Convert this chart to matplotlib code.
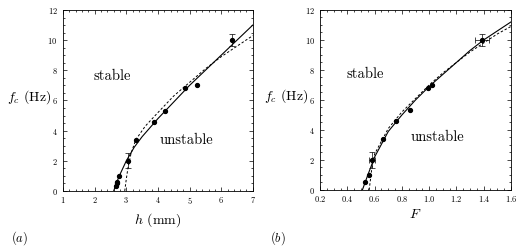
import numpy as np
import matplotlib
matplotlib.use('Agg')
import matplotlib.pyplot as plt
from matplotlib.ticker import MultipleLocator

plt.rcParams['font.family'] = 'cmr10'
plt.rcParams['mathtext.fontset'] = 'cm'
plt.rcParams['axes.formatter.use_mathtext'] = True

# panel (a): threshold frequency vs depth h
h_pts = [2.68, 2.70, 2.72, 2.76, 3.05, 3.30, 3.88, 4.22, 4.85, 5.25, 6.35]
fa_pts = [0.3, 0.5, 0.6, 1.0, 2.0, 3.4, 4.6, 5.3, 6.8, 7.0, 10.0]
h_err_x = [3.05, 6.35]
h_err_y = [2.0, 10.0]
h_err_dy = [0.5, 0.4]

h_solid = [2.60, 2.70, 2.80, 3.00, 3.25, 3.50, 4.00, 4.50, 5.00, 5.50, 6.00, 6.50, 7.00]
fa_solid = [0.0, 0.6, 1.1, 2.0, 2.9, 3.6, 4.8, 5.9, 7.0, 8.0, 9.0, 10.0, 11.0]
h_dash = [2.95, 3.00, 3.05, 3.15, 3.30, 3.60, 4.00, 4.50, 5.00, 5.50, 6.00, 6.50, 7.00]
fa_dash = [0.0, 0.8, 1.5, 2.5, 3.4, 4.3, 5.2, 6.3, 7.2, 8.1, 8.9, 9.6, 10.3]

# panel (b): threshold frequency vs F
F_pts = [0.53, 0.555, 0.58, 0.66, 0.76, 0.86, 0.99, 1.02, 1.39]
fb_pts = [0.5, 1.0, 2.0, 3.4, 4.6, 5.3, 6.8, 7.0, 10.0]
F_err_x = [0.58, 1.39]
F_err_y = [2.0, 10.0]
F_err_dx = [0.02, 0.05]
F_err_dy = [0.55, 0.4]

F_solid = [0.51, 0.55, 0.60, 0.70, 0.80, 0.90, 1.00, 1.10, 1.20, 1.30, 1.40, 1.50, 1.60]
fb_solid = [0.0, 1.0, 2.2, 3.9, 5.0, 6.0, 6.9, 7.7, 8.5, 9.3, 10.0, 10.6, 11.2]
F_dash = [0.56, 0.58, 0.60, 0.70, 0.80, 0.90, 1.00, 1.10, 1.20, 1.30, 1.40, 1.50, 1.60]
fb_dash = [0.0, 1.5, 2.4, 4.1, 5.2, 6.1, 7.0, 7.8, 8.5, 9.2, 9.8, 10.4, 10.9]

fig = plt.figure(figsize=(5.3, 2.49), dpi=100)
axa = fig.add_axes([0.119, 0.233, 0.358, 0.727])
axb = fig.add_axes([0.604, 0.237, 0.360, 0.723])

def style(ax, xmaj, xmin):
    ax.xaxis.set_major_locator(MultipleLocator(xmaj))
    ax.xaxis.set_minor_locator(MultipleLocator(xmin))
    ax.yaxis.set_major_locator(MultipleLocator(2))
    ax.yaxis.set_minor_locator(MultipleLocator(0.5))
    ax.tick_params(which='both', direction='in', top=True, right=True,
                   labelsize=6, width=0.5)
    ax.tick_params(axis='x', pad=3)
    ax.tick_params(axis='y', pad=4)
    ax.tick_params(which='major', length=3)
    ax.tick_params(which='minor', length=1.5)
    for s in ax.spines.values():
        s.set_linewidth(0.6)

# (a)
axa.plot(h_solid, fa_solid, color='k', lw=0.8)
axa.plot(h_dash, fa_dash, color='k', lw=0.7, ls=(0, (2.5, 2)))
axa.plot(h_pts, fa_pts, 'o', color='k', ms=2.8)
axa.errorbar(h_err_x, h_err_y, yerr=h_err_dy, fmt='none', ecolor='k',
             elinewidth=0.5, capsize=2, capthick=0.5)
axa.set_xlim(1, 7)
axa.set_ylim(0, 12)
style(axa, 1, 0.2)
axa.set_xlabel(r'$h$ (mm)', fontsize=10, labelpad=4)
axa.set_ylabel(r'$f_c$ (Hz)', fontsize=10, rotation=0)
axa.yaxis.set_label_coords(-0.18, 0.47)
axa.text(2.55, 7.6, 'stable', fontsize=10.5, ha='center', va='center')
axa.text(4.9, 3.4, 'unstable', fontsize=10.5, ha='center', va='center')
fig.text(0.02, 0.03, r'$(a)$', fontsize=9)

# (b)
axb.plot(F_solid, fb_solid, color='k', lw=0.8)
axb.plot(F_dash, fb_dash, color='k', lw=0.7, ls=(0, (2.5, 2)))
axb.plot(F_pts, fb_pts, 'o', color='k', ms=2.8)
axb.errorbar(F_err_x, F_err_y, xerr=F_err_dx, yerr=F_err_dy, fmt='none',
             ecolor='k', elinewidth=0.5, capsize=2, capthick=0.5)
axb.set_xlim(0.2, 1.6)
axb.set_ylim(0, 12)
style(axb, 0.2, 0.05)
axb.set_xlabel(r'$F$', fontsize=10, labelpad=3)
axb.set_ylabel(r'$f_c$ (Hz)', fontsize=10, rotation=0)
axb.yaxis.set_label_coords(-0.18, 0.47)
axb.text(0.53, 7.7, 'stable', fontsize=10.5, ha='center', va='center')
axb.text(1.06, 3.5, 'unstable', fontsize=10.5, ha='center', va='center')
fig.text(0.51, 0.03, r'$(b)$', fontsize=9)

fig.savefig('out.png', dpi=100)
